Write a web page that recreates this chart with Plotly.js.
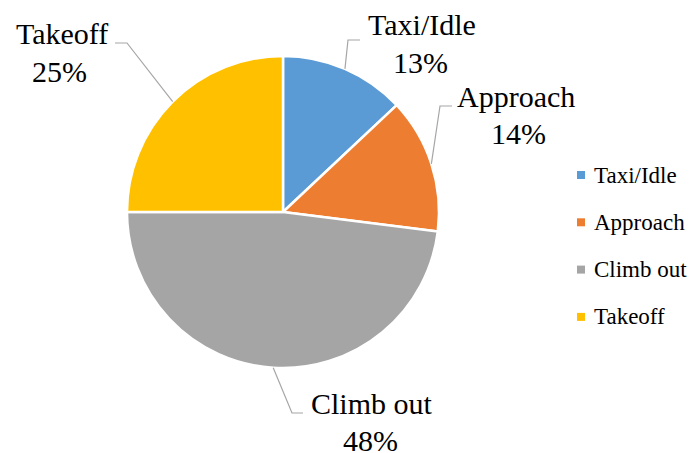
<!DOCTYPE html>
<html>
<head>
<meta charset="utf-8">
<script src="https://cdn.plot.ly/plotly-3.0.1.min.js"></script>
<style>html,body{margin:0;padding:0;background:#fff;}#chart{width:690px;height:453px;}</style>
</head>
<body>
<div id="chart"></div>
<script>
// ---- data ----
const categories = ["Taxi/Idle", "Approach", "Climb out", "Takeoff"];
const shares = [13, 14, 48, 25];
const colors = ["#5B9BD5", "#ED7D31", "#A5A5A5", "#FFC000"];

// ---- layout config (pixels) ----
const W = 690, H = 453;
const CX = 283, CY = 212, R = 156;
const FONT = "'Liberation Serif', 'Times New Roman', serif";
const namePos = [[422, 24], [516, 96.5], [372, 403.5], [61.5, 34]];
const pctPos = [[421, 62], [518.5, 133.5], [370.5, 440.5], [59.5, 71]];
const leaderElbow = [[348, 40], [440, 106], [292, 413], [127, 43]];
const leaderTail = [[360, 40], [452, 106], [303, 413], [115, 43]];
const legendX = 581, legendY0 = 175, legendStep = 47.3;

const px = x => x / W;
const py = y => 1 - y / H;

const total = shares.reduce((a, b) => a + b, 0);
const annotations = [];
const shapes = [];
let cum = 0;
shares.forEach((v, i) => {
  const mid = (cum + v / 2) / total * 2 * Math.PI; // clockwise from 12 o'clock
  cum += v;
  const ex = CX + R * Math.sin(mid), ey = CY - R * Math.cos(mid);
  const pct = Math.round(v / total * 100) + "%";
  annotations.push({
    xref: "paper", yref: "paper", x: px(namePos[i][0]), y: py(namePos[i][1]),
    xanchor: "center", yanchor: "middle", showarrow: false,
    text: categories[i], font: {family: FONT, size: 30, color: "#000"}
  });
  annotations.push({
    xref: "paper", yref: "paper", x: px(pctPos[i][0]), y: py(pctPos[i][1]),
    xanchor: "center", yanchor: "middle", showarrow: false,
    text: pct, font: {family: FONT, size: 30, color: "#000"}
  });
  shapes.push({
    type: "path", xref: "paper", yref: "paper",
    path: `M ${px(ex)} ${py(ey)} L ${px(leaderElbow[i][0])} ${py(leaderElbow[i][1])} L ${px(leaderTail[i][0])} ${py(leaderTail[i][1])}`,
    line: {color: "#A6A6A6", width: 1.2}
  });
  // manual legend
  const ly = legendY0 + i * legendStep;
  shapes.push({
    type: "rect", xref: "paper", yref: "paper",
    x0: px(legendX - 4), x1: px(legendX + 4), y0: py(ly - 4), y1: py(ly + 4),
    fillcolor: colors[i], line: {width: 0}
  });
  annotations.push({
    xref: "paper", yref: "paper", x: px(legendX + 11), y: py(ly),
    xanchor: "left", yanchor: "middle", showarrow: false,
    text: categories[i], font: {family: FONT, size: 23, color: "#000"}
  });
});

const trace = {
  type: "pie",
  labels: categories,
  values: shares,
  sort: false,
  direction: "clockwise",
  rotation: 0,
  textinfo: "none",
  hoverinfo: "label+percent",
  marker: {colors: colors, line: {color: "#FFFFFF", width: 2.5}},
  domain: {x: [px(CX - R), px(CX + R)], y: [py(CY + R), py(CY - R)]},
  showlegend: false
};

Plotly.newPlot("chart", [trace], {
  width: W, height: H,
  margin: {l: 0, r: 0, t: 0, b: 0},
  paper_bgcolor: "#fff",
  font: {family: FONT},
  showlegend: false,
  annotations: annotations,
  shapes: shapes
}, {displayModeBar: false, staticPlot: true});
</script>
</body>
</html>
